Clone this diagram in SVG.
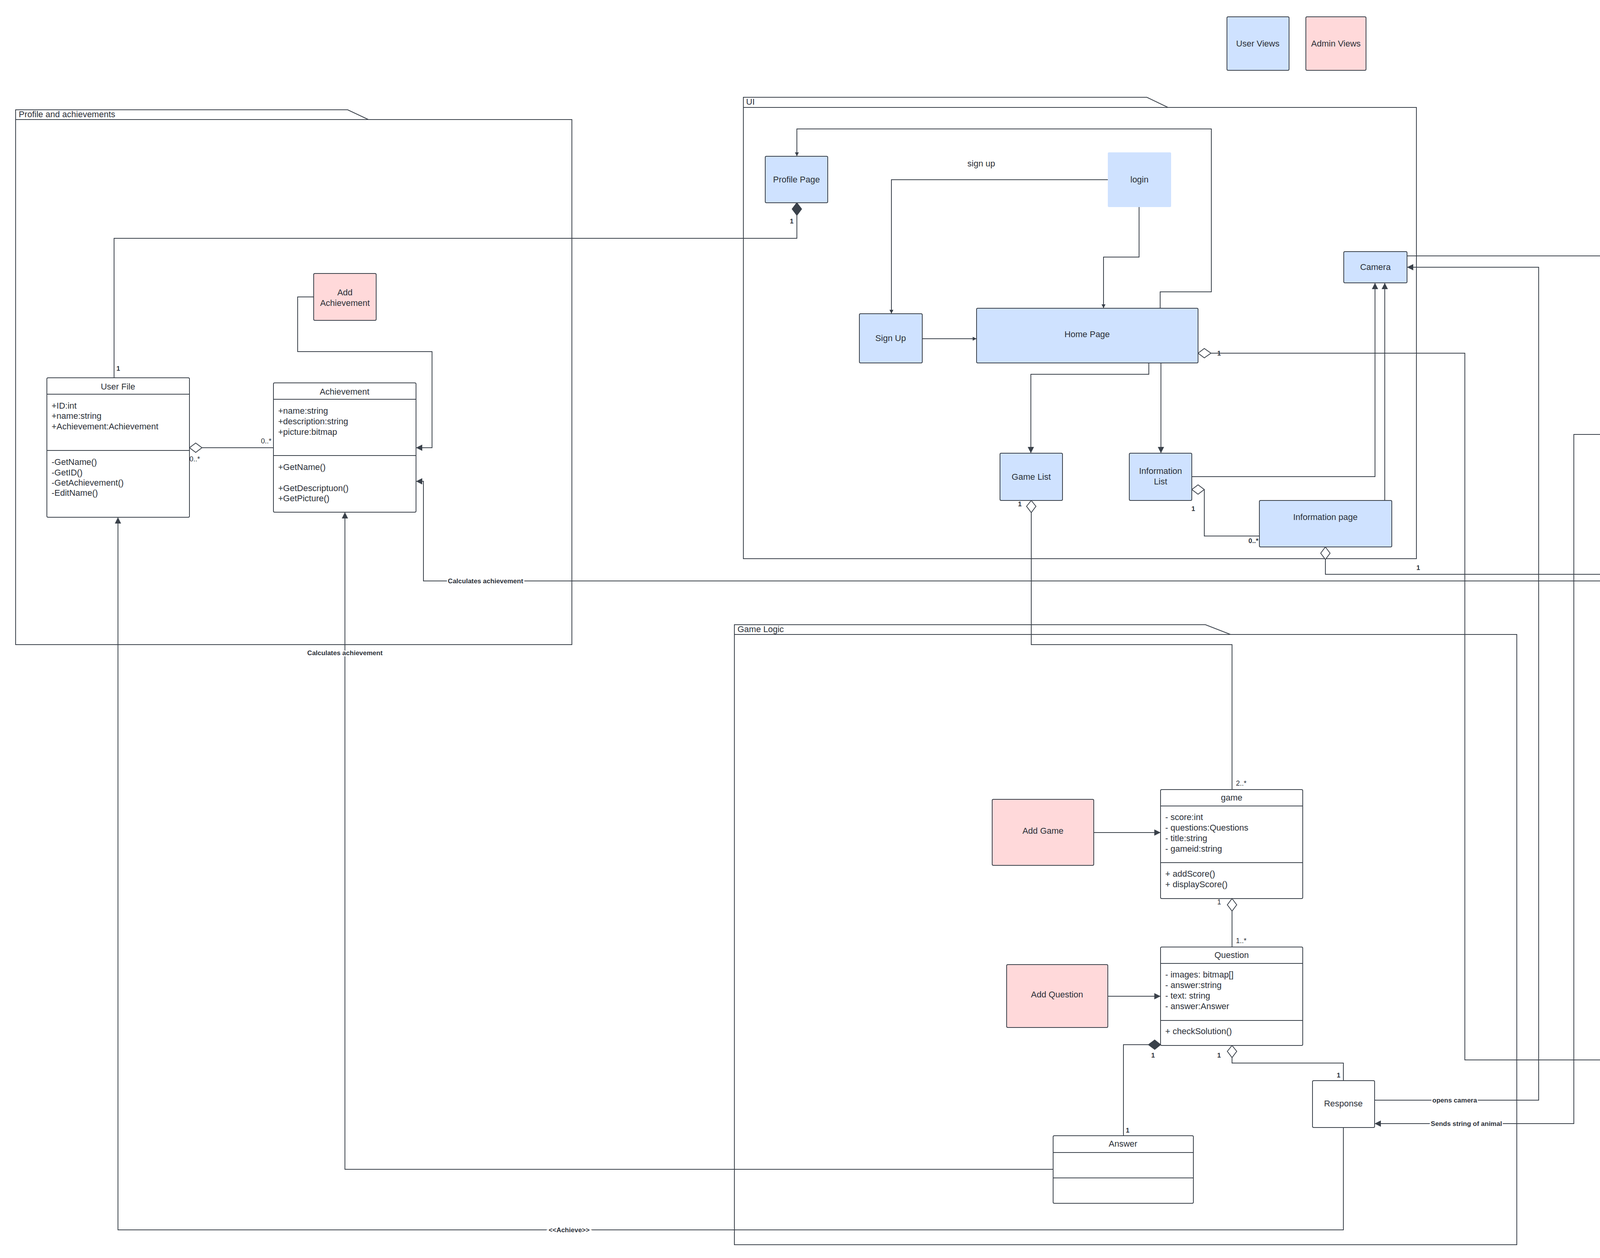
<svg xmlns="http://www.w3.org/2000/svg" width="6720" height="3220" viewBox="0 0 6720 3220">
<style>
text{font-family:"Liberation Sans",Arial,sans-serif;fill:#2b3038;font-size:22px}
.c{text-anchor:middle}
.pk{fill:none;stroke:#3a414a;stroke-width:2}
.bl{fill:#cfe2ff;stroke:#3a414a;stroke-width:2}
.bln{fill:#cfe2ff;stroke:none}
.pi{fill:#ffd9da;stroke:#3a414a;stroke-width:2}
.wh{fill:#fff;stroke:#3a414a;stroke-width:2}
.ln{fill:none;stroke:#3a414a;stroke-width:2}
.cn path{fill:none;stroke:#3a414a;stroke-width:2}
.od{fill:#fff;stroke:#3a414a;stroke-width:2}
.fd{fill:#3a414a;stroke:#3a414a;stroke-width:2}
.lb{font-size:17px;font-weight:bold}
.ml{font-size:18px}
.bg{paint-order:stroke;stroke:#fff;stroke-width:6px}
</style>
<defs>
<marker id="a" viewBox="0 0 10 10" refX="10" refY="5" markerWidth="10" markerHeight="10" markerUnits="userSpaceOnUse" orient="auto"><path d="M0,0 L10,5 L0,10 z" fill="#3a414a"/></marker>
<marker id="b" viewBox="0 0 10 10" refX="10" refY="5" markerWidth="16" markerHeight="16" markerUnits="userSpaceOnUse" orient="auto"><path d="M0,0 L10,5 L0,10 z" fill="#3a414a"/></marker>
</defs>

<g id="legend-user"><rect class="bl" x="3141" y="43" width="159" height="137" rx="3"/><text class="c" x="3220" y="119">User Views</text></g>
<g id="legend-admin"><rect class="pi" x="3343" y="43" width="154" height="137" rx="3"/><text class="c" x="3420" y="119">Admin Views</text></g>

<g id="pkg-profile"><path class="pk" d="M40,306 V281 H890 L943,306 H1464 V1650 H40 V306 H943"/><text x="48" y="300">Profile and achievements</text></g>
<g id="pkg-ui"><path class="pk" d="M1903,275 V249 H2936 L2990,275 H3626 V1430 H1903 V275 H2990"/><text x="1910" y="268">UI</text></g>
<g id="pkg-core"><path class="pk" d="M4253,306 V281 H5420 L5480,306 H6199 V1381 H4253 V306 H5480"/><text x="4260" y="300">Core Functionality</text></g>
<g id="pkg-game"><path class="pk" d="M1880,1624 V1599 H3086 L3150,1624 H3883 V3186 H1880 V1624 H3150"/><text x="1888" y="1618">Game  Logic</text></g>
<g id="pkg-learn"><path class="pk" d="M4157,1526 V1500 H5679 L5756,1526 H6677 V2760 H4157 V1526 H5756"/><text x="4165" y="1519">Learn</text></g>

<g class="cn" id="connectors">
<path d="M292,967 V610 H2040 V551"/>
<path d="M517,1146 H700"/>
<path d="M803,760 H762 V900 H1106 V1146 H1065" marker-end="url(#b)"/>
<path d="M4926,2412 H4905 V1487 H1084 V1232 H1065" marker-end="url(#b)"/>
<path d="M2696,2993 H883 V1311" marker-end="url(#b)"/>
<path d="M3439,2886 V3148 H302 V1324" marker-end="url(#b)"/>
<path d="M2970,789 V747 H3101 V330 H2040 V400" marker-end="url(#a)"/>
<path d="M2836,460 H2282 V803" marker-end="url(#a)"/>
<path d="M2916,530 V658 H2825 V789" marker-end="url(#a)"/>
<path d="M2361,867 H2500" marker-end="url(#a)"/>
<path d="M2941,929 V958 H2639 V1160" marker-end="url(#b)"/>
<path d="M2972,929 V1160" marker-end="url(#b)"/>
<path d="M3051,1220 H3520 V724" marker-end="url(#b)"/>
<path d="M3083,1253 V1372 H3224"/>
<path d="M3545,1281 V724" marker-end="url(#b)"/>
<path d="M3100,904 H3750 V2713 H5853 V2567"/>
<path d="M2640,1312 V1650 H3154 V2021"/>
<path d="M3393,1432 V1470 H5190 V2180"/>
<path d="M3602,655 H4840 V685 H4862" marker-end="url(#b)"/>
<path d="M3519,2816 H3939 V684 H3602" marker-end="url(#b)"/>
<path d="M5047,1090 V1112 H4029 V2876 H3519" marker-end="url(#b)"/>
<path d="M5045,842 V920" marker-end="url(#b)"/>
<path d="M4868,1004 H4823 V744 H4862" marker-end="url(#b)"/>
<path d="M5227,1004 H5399" marker-end="url(#b)"/>
<path d="M2800,2131 H2971" marker-end="url(#b)"/>
<path d="M3154,2332 V2424"/>
<path d="M2836,2550 H2971" marker-end="url(#b)"/>
<path d="M2940,2674 H2876 V2907"/>
<path d="M3154,2707 V2721 H3439 V2766"/>
<path d="M4700,2154 H5056 V2180" marker-end="url(#b)"/>
<path d="M5487,2414 H5580"/>
<path d="M5853,2060 V2260" marker-end="url(#b)"/>
<polygon class="fd" points="2040,519 2052,535 2040,551 2028,535"/>
<polygon class="od" points="485,1146 501,1134 517,1146 501,1158"/>
<polygon class="od" points="3051,1253 3067,1241 3083,1253 3067,1265"/>
<polygon class="od" points="3067,904 3083,892 3100,904 3083,916"/>
<polygon class="od" points="2640,1281 2652,1296 2640,1312 2628,1296"/>
<polygon class="od" points="3393,1400 3405,1416 3393,1432 3381,1416"/>
<polygon class="od" points="3154,2300 3166,2316 3154,2332 3142,2316"/>
<polygon class="fd" points="2940,2674 2956,2662 2971,2674 2956,2686"/>
<polygon class="od" points="3154,2676 3166,2691 3154,2707 3142,2691"/>
<polygon class="od" points="5453,2414 5470,2402 5487,2414 5470,2426"/>
<text class="lb c bg" x="1243" y="1493">Calculates achievement</text>
<text class="lb c bg" x="883" y="1677">Calculates achievement</text>
<text class="lb c bg" x="1457" y="3154">&lt;&lt;Achieve&gt;&gt;</text>
<text class="lb c bg" x="3724" y="2822">opens camera</text>
<text class="lb c bg" x="3754" y="2882">Sends string of animal</text>
<text class="lb c bg" x="5299" y="1010">checks model</text>
<text class="lb" x="298" y="949">1</text>
<text class="lb" x="2022" y="572">1</text>
<text class="ml" x="668" y="1135">0..*</text>
<text class="ml" x="485" y="1181">0..*</text>
<text class="lb" x="3116" y="910">1</text>
<text class="lb" x="2606" y="1296">1</text>
<text class="lb" x="3050" y="1308">1</text>
<text class="lb" x="3196" y="1390">0..*</text>
<text class="lb" x="3626" y="1459">1</text>
<text class="lb" x="5197" y="2079">1</text>
<text class="ml" x="3164" y="2011">2..*</text>
<text class="ml" x="3116" y="2315">1</text>
<text class="ml" x="3164" y="2414">1..*</text>
<text class="lb" x="2947" y="2707">1</text>
<text class="lb" x="3116" y="2707">1</text>
<text class="lb" x="2882" y="2899">1</text>
<text class="lb" x="3422" y="2758">1</text>
<text class="ml" x="5458" y="2386">1</text>
<text class="ml" x="5552" y="2403">1..*</text>
<text class="ml" x="5842" y="2635">1..*</text>
</g>

<g id="user-file"><rect class="wh" x="120" y="967" width="365" height="357" rx="3"/><path class="ln" d="M120,1009 H485 M120,1153 H485"/>
<text class="c" x="302" y="997">User File</text>
<text x="132" y="1046">+ID:int</text><text x="132" y="1072">+name:string</text><text x="132" y="1099">+Achievement:Achievement</text>
<text x="132" y="1190">-GetName()</text><text x="132" y="1217">-GetID()</text><text x="132" y="1243">-GetAchievement()</text><text x="132" y="1269">-EditName()</text></g>
<g id="add-achievement"><rect class="pi" x="803" y="700" width="160" height="120" rx="3"/><text class="c" x="883" y="756">Add</text><text class="c" x="883" y="783">Achievement</text></g>
<g id="achievement"><rect class="wh" x="700" y="980" width="365" height="331" rx="3"/><path class="ln" d="M700,1022 H1065 M700,1166 H1065"/>
<text class="c" x="882" y="1010">Achievement</text>
<text x="712" y="1059">+name:string</text><text x="712" y="1086">+description:string</text><text x="712" y="1113">+picture:bitmap</text>
<text x="712" y="1203">+GetName()</text><text x="712" y="1257">+GetDescriptuon()</text><text x="712" y="1283">+GetPicture()</text></g>

<g id="profile-page"><rect class="bl" x="1959" y="400" width="160" height="119" rx="3"/><text class="c" x="2039" y="467">Profile Page</text></g>
<g id="login"><rect class="bln" x="2836" y="390" width="162" height="140" rx="3"/><text class="c" x="2917" y="467">login</text></g>
<text class="c" x="2512" y="426">sign up</text>
<g id="sign-up"><rect class="bl" x="2200" y="803" width="161" height="126" rx="3"/><text class="c" x="2280" y="873">Sign Up</text></g>
<g id="home-page"><rect class="bl" x="2500" y="789" width="567" height="140" rx="3"/><text class="c" x="2783" y="863">Home Page</text></g>
<g id="game-list"><rect class="bl" x="2560" y="1160" width="160" height="121" rx="3"/><text class="c" x="2640" y="1228">Game List</text></g>
<g id="information-list"><rect class="bl" x="2891" y="1160" width="160" height="121" rx="3"/><text class="c" x="2971" y="1213">Information</text><text class="c" x="2971" y="1240">List</text></g>
<g id="information-page"><rect class="bl" x="3224" y="1281" width="339" height="119" rx="3"/><text class="c" x="3393" y="1331">Information page</text></g>
<g id="camera-ui"><rect class="bl" x="3440" y="644" width="162" height="80" rx="3"/><text class="c" x="3521" y="691">Camera</text></g>

<g id="camera-core"><rect class="wh" x="4862" y="645" width="365" height="197" rx="3"/><path class="ln" d="M4862,687 H5227 M4862,751 H5227"/>
<text class="c" x="5045" y="675">Camera</text><text x="4874" y="787">+ sendFrame()</text><text x="4874" y="814">+ exit()</text></g>
<g id="handle-frame"><rect class="wh" x="4868" y="920" width="359" height="170" rx="3"/><path class="ln" d="M4868,962 H5227 M4868,1026 H5227"/>
<text class="c" x="5047" y="950">HandleFrame</text><text x="4878" y="1064">+MatchPhoto()</text></g>
<g id="image-matching-model"><rect class="wh" x="5399" y="920" width="360" height="170" rx="3"/><path class="ln" d="M5399,962 H5759 M5399,1026 H5759"/>
<text class="c" x="5579" y="950">ImageMatchingModel</text></g>

<g id="add-game"><rect class="pi" x="2540" y="2046" width="260" height="169" rx="3"/><text class="c" x="2670" y="2134">Add Game</text></g>
<g id="game"><rect class="wh" x="2971" y="2021" width="364" height="279" rx="3"/><path class="ln" d="M2971,2063 H3335 M2971,2208 H3335"/>
<text class="c" x="3153" y="2049">game</text>
<text x="2983" y="2099">- score:int</text><text x="2983" y="2126">- questions:Questions</text><text x="2983" y="2153">- title:string</text><text x="2983" y="2180">- gameid:string</text>
<text x="2983" y="2244">+ addScore()</text><text x="2983" y="2271">+ displayScore()</text></g>
<g id="add-question"><rect class="pi" x="2577" y="2469" width="259" height="161" rx="3"/><text class="c" x="2706" y="2553">Add Question</text></g>
<g id="question"><rect class="wh" x="2971" y="2424" width="364" height="252" rx="3"/><path class="ln" d="M2971,2466 H3335 M2971,2612 H3335"/>
<text class="c" x="3153" y="2452">Question</text>
<text x="2983" y="2502">- images: bitmap[]</text><text x="2983" y="2529">- answer:string</text><text x="2983" y="2556">- text: string</text><text x="2983" y="2583">- answer:Answer</text>
<text x="2983" y="2647">+ checkSolution()</text></g>
<g id="response"><rect class="wh" x="3360" y="2766" width="159" height="120" rx="3"/><text class="c" x="3439" y="2832">Response</text></g>
<g id="answer"><rect class="wh" x="2696" y="2907" width="359" height="173" rx="3"/><path class="ln" d="M2696,2950 H3055 M2696,3015 H3055"/><text class="c" x="2875" y="2935">Answer</text></g>

<g id="add-animals"><rect class="pi" x="4540" y="2094" width="160" height="120" rx="3"/><text class="c" x="4620" y="2160">Add Animals</text></g>
<g id="animal-information"><rect class="wh" x="4926" y="2180" width="527" height="466" rx="3"/><path class="ln" d="M4926,2223 H5453 M4926,2407 H5453"/>
<text class="c" x="5190" y="2206">Animal  information</text>
<text x="4938" y="2280">- name:string</text><text x="4938" y="2306">- voice:mp3[]</text><text x="4938" y="2332">- picture:bitmap[]</text><text x="4938" y="2359">- jokes:jokes</text>
<text x="4938" y="2464">+GetName()</text><text x="4938" y="2490">+GetVoice()</text><text x="4938" y="2517">+GetPicture()</text><text x="4938" y="2544">+GetJokes</text><text x="4938" y="2571">+calculateAchievements()</text></g>
<g id="add-jokes"><rect class="pi" x="5773" y="1940" width="161" height="120" rx="3"/><text class="c" x="5853" y="2006">Add Jokes</text></g>
<g id="jokes"><rect class="wh" x="5580" y="2260" width="548" height="307" rx="3"/><path class="ln" d="M5580,2302 H6128 M5580,2448 H6128"/>
<text class="c" x="5854" y="2287">jokes</text><text x="5592" y="2366">- jokes:string</text><text x="5592" y="2511">+GetJokes()</text></g>
</svg>
